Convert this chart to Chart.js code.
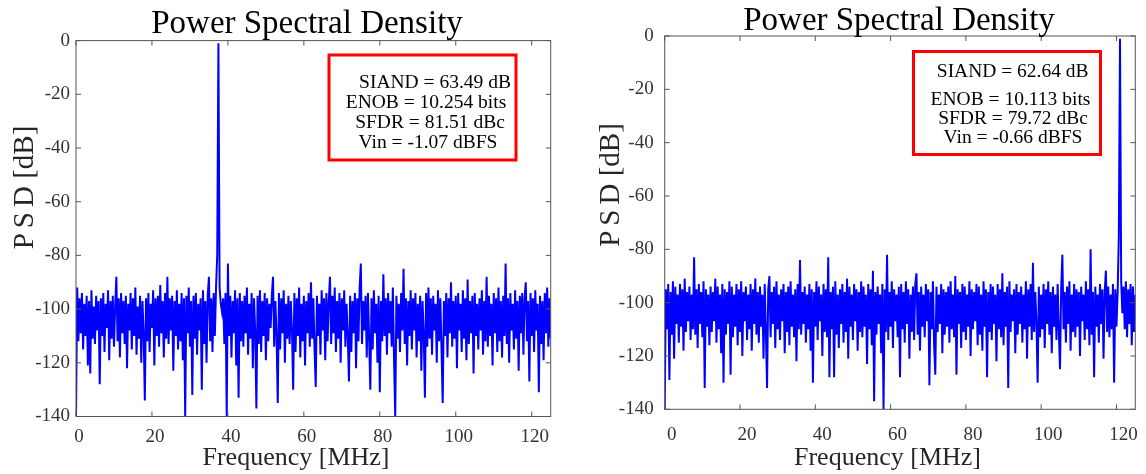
<!DOCTYPE html>
<html>
<head>
<meta charset="utf-8">
<script src="https://cdn.jsdelivr.net/npm/chart.js@4.4.1/dist/chart.umd.min.js"></script>
<style>
html, body { margin: 0; padding: 0; background: #fff; }
#wrap { position: relative; width: 1146px; height: 474px; }
.panel { position: absolute; top: 0; width: 573px; height: 474px; }
</style>
</head>
<body>
<div id="wrap">
  <div class="panel" style="left:0"><canvas id="psdLeft"></canvas></div>
  <div class="panel" style="left:573px"><canvas id="psdRight"></canvas></div>
</div>
<script>
// FFT bin spacing in MHz (125 MHz span / 400 bins)
const binWidth = 0.3125;
const xTicks = [0, 20, 40, 60, 80, 100, 120];
const yTicks = [0, -20, -40, -60, -80, -100, -120, -140];

// PSD in dB, one value per bin
const psdLeft = [
  -140,-92,-112,-96,-109,-94,-115,-98,-110,-95,-121,-97,-124,-93,-111,-99,-113,-95,-108,-97,
  -128,-96,-110,-94,-116,-98,-107,-93,-119,-97,-111,-95,-114,-99,-88,-112,-96,-118,-94,-109,
  -97,-113,-95,-122,-98,-108,-94,-115,-96,-110,-92,-117,-99,-111,-95,-120,-97,-109,-134,-96,
  -112,-94,-116,-98,-107,-93,-121,-96,-110,-95,-114,-91,-109,-97,-118,-94,-111,-88,-113,-96,
  -108,-95,-123,-97,-110,-93,-115,-98,-112,-94,-119,-96,-140,-95,-109,-92,-114,-97,-132,-95,
  -111,-94,-117,-98,-108,-96,-130,-93,-113,-97,-120,-95,-88,-112,-96,-116,-94,-110,-92,-80,
  -1,-92,-98,-101,-96,-113,-94,-140,-83,-110,-95,-118,-97,-109,-93,-121,-96,-133,-94,-112,
  -97,-114,-95,-109,-92,-117,-98,-111,-94,-122,-96,-108,-137,-95,-113,-93,-116,-97,-110,-94,
  -119,-96,-112,-98,-107,-95,-88,-114,-97,-110,-135,-94,-115,-96,-109,-93,-120,-98,-111,-95,
  -113,-97,-108,-130,-94,-116,-96,-110,-92,-118,-98,-112,-95,-121,-97,-109,-94,-114,-90,-111,
  -96,-115,-129,-95,-110,-98,-117,-93,-108,-96,-119,-94,-112,-97,-88,-113,-95,-109,-92,-116,
  -97,-111,-94,-120,-96,-108,-93,-114,-98,-110,-127,-95,-116,-97,-109,-94,-122,-96,-112,-92,
  -83,-113,-97,-108,-95,-118,-94,-111,-130,-96,-115,-93,-109,-98,-120,-95,-131,-97,-112,-87,
  -110,-96,-117,-94,-109,-97,-114,-92,-119,-140,-95,-111,-98,-116,-94,-108,-85,-113,-96,-121,
  -97,-110,-93,-115,-96,-108,-94,-118,-98,-112,-95,-123,-97,-109,-133,-94,-114,-92,-111,-96,
  -117,-95,-108,-98,-120,-93,-112,-96,-115,-135,-97,-110,-94,-118,-96,-109,-90,-114,-97,-111,
  -95,-122,-94,-108,-98,-116,-93,-111,-96,-119,-89,-113,-97,-109,-95,-124,-94,-110,-98,-115,
  -96,-108,-93,-117,-97,-112,-88,-114,-95,-110,-98,-121,-94,-109,-96,-116,-92,-112,-97,-118,
  -95,-110,-83,-113,-96,-120,-94,-108,-98,-115,-93,-111,-97,-123,-95,-109,-94,-117,-96,-90,
  -112,-97,-127,-94,-110,-96,-116,-93,-108,-98,-131,-95,-113,-97,-119,-94,-109,-92,-114,-96,
  -111
];

const psdRight = [
  -140,-95,-110,-93,-129,-96,-112,-92,-121,-94,-108,-97,-115,-93,-109,-95,-118,-91,-111,-96,
  -107,-94,-114,-97,-110,-83,-112,-95,-117,-93,-108,-96,-113,-92,-132,-95,-109,-97,-116,-94,
  -111,-96,-107,-91,-115,-94,-110,-97,-119,-93,-130,-95,-112,-96,-108,-92,-127,-94,-113,-97,
  -109,-93,-116,-95,-111,-92,-120,-96,-107,-94,-114,-97,-110,-93,-118,-95,-108,-91,-112,-96,
  -115,-94,-109,-97,-121,-93,-111,-132,-95,-90,-113,-96,-108,-94,-117,-92,-110,-97,-114,-95,
  -107,-93,-119,-96,-111,-94,-116,-92,-109,-97,-113,-95,-122,-93,-110,-84,-112,-96,-108,-94,
  -115,-97,-110,-93,-118,-95,-130,-96,-109,-92,-114,-94,-107,-97,-120,-93,-111,-95,-113,-83,
  -128,-96,-110,-94,-128,-92,-112,-97,-117,-95,-108,-93,-115,-96,-111,-91,-121,-94,-109,-97,
  -114,-93,-107,-95,-118,-96,-111,-92,-113,-94,-109,-97,-123,-93,-110,-95,-116,-88,-137,-96,
  -112,-94,-108,-97,-119,-93,-140,-95,-111,-82,-114,-96,-109,-92,-117,-95,-107,-97,-113,-94,
  -128,-93,-110,-96,-115,-92,-108,-95,-121,-97,-111,-94,-114,-93,-89,-112,-96,-118,-94,-109,
  -97,-113,-93,-107,-95,-131,-96,-110,-92,-116,-127,-94,-111,-97,-108,-93,-119,-95,-112,-96,
  -109,-94,-115,-92,-110,-97,-113,-90,-127,-95,-108,-96,-117,-93,-111,-94,-114,-97,-109,-92,
  -120,-95,-110,-96,-107,-93,-116,-94,-112,-97,-118,-92,-109,-95,-128,-96,-111,-93,-114,-94,
  -108,-97,-122,-93,-110,-95,-113,-89,-116,-96,-109,-94,-132,-92,-111,-97,-107,-95,-119,-93,
  -112,-96,-108,-94,-115,-97,-110,-92,-121,-95,-109,-93,-114,-85,-111,-96,-108,-130,-94,-113,
  -97,-110,-93,-117,-95,-108,-92,-112,-96,-119,-94,-109,-97,-114,-93,-111,-125,-95,-82,-110,
  -96,-115,-94,-108,-92,-118,-97,-111,-93,-113,-95,-109,-96,-120,-94,-107,-97,-114,-92,-110,
  -95,-116,-80,-112,-96,-128,-94,-109,-97,-115,-93,-108,-95,-121,-96,-88,-111,-94,-113,-97,
  -110,-93,-130,-95,-109,-96,-75,-1,-92,-104,-94,-110,-92,-113,-95,-108,-93,-116,-94,-111,
  -97
];

const statsLeft = ['SIAND = 63.49 dB', 'ENOB = 10.254 bits', 'SFDR = 81.51 dBc', 'Vin = -1.07 dBFS'];
const statsRight = ['SIAND = 62.64 dB', 'ENOB = 10.113 bits', 'SFDR = 79.72 dBc', 'Vin = -0.66 dBFS'];

const FONT = '"Liberation Serif", "Times New Roman", serif';
const INK = '#262626';

// draws the matlab style frame, inner ticks, titles and the red stats box
function decor(cfg) {
    return {
        id: 'decor',
        afterDraw(chart) {
            const ctx = chart.ctx;
            const a = chart.chartArea;
            const xs = chart.scales.x, ys = chart.scales.y;
            ctx.save();
            ctx.strokeStyle = '#555';
            ctx.lineWidth = 1;
            ctx.strokeRect(a.left, a.top, a.right - a.left, a.bottom - a.top);
            ctx.beginPath();
            xTicks.forEach(v => {
                const px = xs.getPixelForValue(v);
                ctx.moveTo(px, a.bottom); ctx.lineTo(px, a.bottom - 5);
                ctx.moveTo(px, a.top); ctx.lineTo(px, a.top + 5);
            });
            yTicks.forEach(v => {
                const py = ys.getPixelForValue(v);
                ctx.moveTo(a.left, py); ctx.lineTo(a.left + 5, py);
                ctx.moveTo(a.right, py); ctx.lineTo(a.right - 5, py);
            });
            ctx.stroke();

            // title
            ctx.fillStyle = '#000';
            ctx.textAlign = 'center';
            ctx.textBaseline = 'alphabetic';
            ctx.font = '33px ' + FONT;
            ctx.fillText('Power Spectral Density', cfg.title[0], cfg.title[1]);

            // x axis title
            ctx.fillStyle = INK;
            ctx.font = '26px ' + FONT;
            ctx.fillText('Frequency [MHz]', cfg.xTitle[0], cfg.xTitle[1]);

            // y axis title, PSD letters spread out a bit
            ctx.save();
            ctx.font = '29px ' + FONT;
            ctx.textAlign = 'left';
            const parts = ['P', 'S', 'D', ' [dB]'];
            const gap = 5;
            let w = gap * 2;
            parts.forEach(p => { w += ctx.measureText(p).width; });
            ctx.translate(cfg.yTitle[0], cfg.yTitle[1]);
            ctx.rotate(-Math.PI / 2);
            let x = -w / 2;
            parts.forEach((p, i) => {
                ctx.fillText(p, x, 0);
                x += ctx.measureText(p).width + (i < 2 ? gap : 0);
            });
            ctx.restore();

            // stats box
            const b = cfg.box;
            ctx.strokeStyle = '#ff0000';
            ctx.lineWidth = 3;
            ctx.strokeRect(b[0], b[1], b[2] - b[0], b[3] - b[1]);
            ctx.fillStyle = '#000';
            ctx.textAlign = 'center';
            ctx.font = '19.5px ' + FONT;
            cfg.stats.forEach((s, i) => {
                ctx.fillText(s, cfg.statX[i], cfg.statY[i]);
            });
            ctx.restore();
        }
    };
}

function makeChart(id, values, opt) {
    const points = values.map((v, i) => ({x: i * binWidth, y: v}));
    return new Chart(document.getElementById(id), {
        type: 'line',
        data: {
            datasets: [{
                data: points,
                borderColor: '#0000ff',
                borderWidth: 2,
                borderJoinStyle: 'miter',
                pointRadius: 0,
                tension: 0,
                fill: false
            }]
        },
        options: {
            responsive: true,
            maintainAspectRatio: false,
            animation: false,
            devicePixelRatio: 1,
            events: [],
            layout: {padding: {left: 0, top: opt.top, right: opt.right, bottom: 0}},
            plugins: {legend: {display: false}, tooltip: {enabled: false}},
            scales: {
                x: {
                    type: 'linear',
                    min: 0,
                    max: 125,
                    afterBuildTicks: s => { s.ticks = xTicks.map(v => ({value: v})); },
                    afterFit: s => { s.height = opt.xHeight; },
                    grid: {display: false, drawTicks: false},
                    border: {display: false},
                    ticks: {
                        color: '#333',
                        font: {family: FONT, size: 19},
                        padding: opt.xPad,
                        labelOffset: opt.xLabelOffset,
                        maxRotation: 0
                    }
                },
                y: {
                    type: 'linear',
                    min: -140,
                    max: 0,
                    afterBuildTicks: s => { s.ticks = yTicks.map(v => ({value: v})); },
                    afterFit: s => { s.width = opt.yWidth; },
                    grid: {display: false, drawTicks: false},
                    border: {display: false},
                    ticks: {
                        color: '#333',
                        font: {family: FONT, size: 19},
                        padding: opt.yPad
                    }
                }
            }
        },
        plugins: [decor(opt)]
    });
}

makeChart('psdLeft', psdLeft, {
    top: 40.6, right: 22.3, xHeight: 57.5, yWidth: 76,
    xPad: 9, yPad: 6, xLabelOffset: 3,
    title: [307, 33], xTitle: [296, 465], yTitle: [33, 187.5],
    box: [329, 55, 516, 160],
    stats: statsLeft,
    statX: [435, 426, 430, 428], statY: [88.3, 108.3, 128.3, 147.5]
});

makeChart('psdRight', psdRight, {
    top: 36, right: 10.7, xHeight: 64.7, yWidth: 91.7,
    xPad: 14, yPad: 11, xLabelOffset: 7,
    title: [326, 30], xTitle: [314.5, 465], yTitle: [46, 185],
    box: [340.5, 51.5, 527.5, 154.5],
    stats: statsRight,
    statX: [439.7, 437.5, 440, 440], statY: [77.3, 105, 124, 142.7]
});
</script>
</body>
</html>
